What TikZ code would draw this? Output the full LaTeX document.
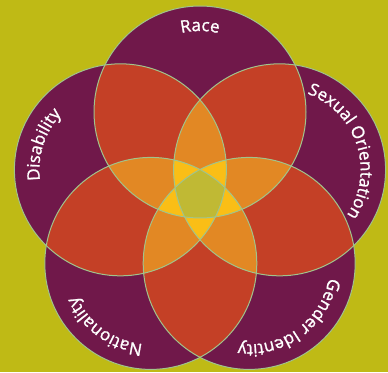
\documentclass[tikz,border=0pt]{standalone}
\usepackage{fontspec}
\setmainfont{Open Sans}
\newfontfamily\lblfamily{Open Sans}[FakeBold=1.3]
\usepackage{tikz}
\usetikzlibrary{decorations.text, calc}
\definecolor{cGround}{RGB}{191,186,21}
\definecolor{cOne}{RGB}{112,24,74}
\definecolor{cTwo}{RGB}{196,64,38}
\definecolor{cThree}{RGB}{226,136,36}
\definecolor{cFour}{RGB}{250,190,22}
\definecolor{cFive}{RGB}{192,185,52}
\definecolor{cEdge}{RGB}{160,196,140}
\newcommand{\setlbl}{\lblfamily\fontsize{17}{17}\selectfont}

\begin{document}
\begin{tikzpicture}[x=1pt, y=1pt,
  ring/.style={draw=cEdge, line width=1pt},
  lbl/.style={decorate, decoration={text along path, text align=center,
    text color=white, text={|\setlbl|#1}}}]
  \useasboundingbox[fill=cGround] (0,0) rectangle (388,372);
  \def\R{106}
  \coordinate (o) at (200,176.3);
  \foreach \i/\a in {0/90,1/18,2/-54,3/-126,4/162}
    \coordinate (c\i) at ($(o)+(\a:83.7)$);
  % one set
  \foreach \i in {0,...,4}
    \fill[cOne] (c\i) circle (\R);
  % two sets
  \foreach \i/\j in {0/1,0/2,0/3,0/4,1/2,1/3,1/4,2/3,2/4,3/4} {
    \begin{scope}
      \clip (c\i) circle (\R);
      \fill[cTwo] (c\j) circle (\R);
    \end{scope}}
  % three sets
  \foreach \i/\j/\k in {0/1/2,0/1/3,0/1/4,0/2/3,0/2/4,0/3/4,1/2/3,1/2/4,1/3/4,2/3/4} {
    \begin{scope}
      \clip (c\i) circle (\R);
      \clip (c\j) circle (\R);
      \fill[cThree] (c\k) circle (\R);
    \end{scope}}
  % four sets
  \foreach \i/\j/\k/\l in {0/1/2/3,0/1/2/4,0/1/3/4,0/2/3/4,1/2/3/4} {
    \begin{scope}
      \clip (c\i) circle (\R);
      \clip (c\j) circle (\R);
      \clip (c\k) circle (\R);
      \fill[cFour] (c\l) circle (\R);
    \end{scope}}
  % all five
  \begin{scope}
    \clip (c0) circle (\R);
    \clip (c1) circle (\R);
    \clip (c2) circle (\R);
    \clip (c3) circle (\R);
    \fill[cFive] (c4) circle (\R);
  \end{scope}
  \foreach \i in {0,...,4}
    \draw[ring] (c\i) circle (\R);
  % labels
  \path[lbl=Race] ($(c0)+(165:81)$) arc[start angle=165, end angle=15, radius=81];
  \path[lbl=Sexual Orientation] ($(c1)+(93:81)$) arc[start angle=93, end angle=-57, radius=81];
  \path[lbl=Gender Identity] ($(c2)+(21:81)$) arc[start angle=21, end angle=-129, radius=81];
  \path[lbl=Nationality] ($(c3)+(-51:81)$) arc[start angle=-51, end angle=-201, radius=81];
  \path[lbl=Disability] ($(c4)+(237:81)$) arc[start angle=237, end angle=87, radius=81];
\end{tikzpicture}
\end{document}
